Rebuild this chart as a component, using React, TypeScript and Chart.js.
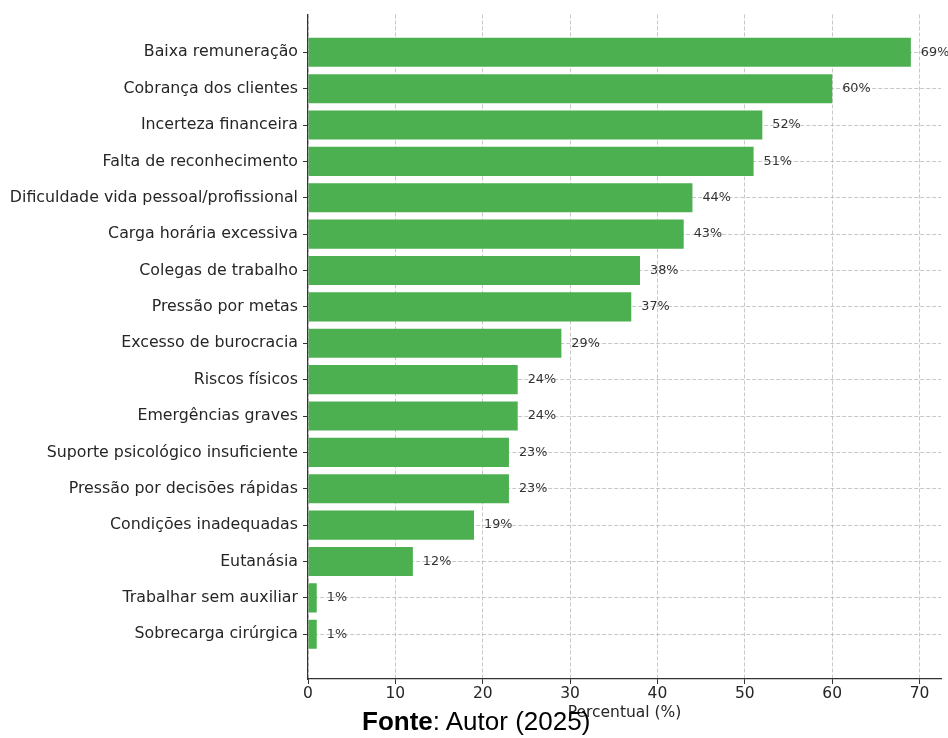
import React, { useEffect, useRef } from "react";
import { Chart, registerables } from "chart.js";

Chart.register(...registerables);

const categories: string[] = [
  "Baixa remuneração",
  "Cobrança dos clientes",
  "Incerteza financeira",
  "Falta de reconhecimento",
  "Dificuldade vida pessoal/profissional",
  "Carga horária excessiva",
  "Colegas de trabalho",
  "Pressão por metas",
  "Excesso de burocracia",
  "Riscos físicos",
  "Emergências graves",
  "Suporte psicológico insuficiente",
  "Pressão por decisões rápidas",
  "Condições inadequadas",
  "Eutanásia",
  "Trabalhar sem auxiliar",
  "Sobrecarga cirúrgica",
];

const percentValues: number[] = [69, 60, 52, 51, 44, 43, 38, 37, 29, 24, 24, 23, 23, 19, 12, 1, 1];

const xTickValues: number[] = [0, 10, 20, 30, 40, 50, 60, 70];

const xAxisTitle = "Percentual (%)";

const FONT = "'DejaVu Sans', sans-serif";

const valueLabelPlugin = {
  id: "valueLabels",
  afterDatasetsDraw(chart: any) {
    const ctx = chart.ctx;
    const meta = chart.getDatasetMeta(0);
    ctx.save();
    ctx.font = `12.8px ${FONT}`;
    ctx.fillStyle = "#333333";
    ctx.textAlign = "left";
    ctx.textBaseline = "middle";
    meta.data.forEach((bar: any, i: number) => {
      ctx.fillText(`${percentValues[i]}%`, bar.x + 10, bar.y);
    });
    ctx.restore();
  },
};

export default function App() {
  const canvasRef = useRef<HTMLCanvasElement | null>(null);

  useEffect(() => {
    document.body.style.margin = "0";
    const canvas = canvasRef.current;
    if (!canvas) return;
    const chart = new Chart(canvas, {
      type: "bar",
      data: {
        datasets: [
          {
            data: percentValues.map((v, i) => ({ x: v, y: i })),
            backgroundColor: "#4CAF50",
            borderWidth: 0,
            barPercentage: 0.8,
            categoryPercentage: 1,
          } as any,
        ],
      },
      options: {
        indexAxis: "y",
        responsive: false,
        animation: false,
        devicePixelRatio: 1,
        layout: { padding: { top: 12, right: 7, left: 0, bottom: 0 } },
        plugins: {
          legend: { display: false },
          tooltip: { enabled: false },
        },
        scales: {
          x: {
            type: "linear",
            position: "bottom",
            min: 0,
            max: 72.45,
            z: 1,
            afterFit: (axis: any) => {
              axis.height = 59;
            },
            afterBuildTicks: (axis: any) => {
              axis.ticks = xTickValues.map((v) => ({ value: v }));
            },
            ticks: {
              font: { family: FONT, size: 15.5 },
              color: "#262626",
              padding: 1,
              maxRotation: 0,
              autoSkip: false,
            },
            grid: {
              color: "rgba(176,176,176,0.7)",
              lineWidth: 1,
              drawTicks: true,
              tickLength: 5,
              tickColor: "#333333",
              tickBorderDash: [],
            },
            border: { display: true, color: "#333333", width: 1.2, dash: [4, 2] },
            title: {
              display: true,
              text: xAxisTitle,
              font: { family: FONT, size: 15.5 },
              color: "#262626",
              padding: { top: 0, bottom: 16 },
            },
          },
          y: {
            type: "linear",
            reverse: true,
            offset: false,
            min: -1.04,
            max: 17.23,
            z: 1,
            afterFit: (axis: any) => {
              axis.width = 308;
            },
            afterBuildTicks: (axis: any) => {
              axis.ticks = categories.map((_, i) => ({ value: i }));
            },
            ticks: {
              font: { family: FONT, size: 15.8 },
              color: "#262626",
              padding: 5,
              autoSkip: false,
              callback: (value: any) => categories[Math.round(Number(value))] ?? "",
            },
            grid: {
              offset: false,
              color: "rgba(176,176,176,0.7)",
              lineWidth: 1,
              drawTicks: true,
              tickLength: 5,
              tickColor: "#333333",
              tickBorderDash: [],
            },
            border: { display: true, color: "#333333", width: 1.2, dash: [4, 2] },
          },
        },
      } as any,
      plugins: [valueLabelPlugin],
    });
    return () => chart.destroy();
  }, []);

  return (
    <div style={{ position: "relative", width: 948, height: 738, overflow: "hidden" }}>
      <canvas ref={canvasRef} width={948} height={738} style={{ display: "block" }} />
      <div
        style={{
          position: "absolute",
          left: 362,
          top: 708,
          fontFamily: "'Liberation Sans', Arial, sans-serif",
          fontSize: 26,
          lineHeight: 1,
          color: "#000",
          whiteSpace: "nowrap",
        }}
      >
        <b>Fonte</b>: Autor (2025)
      </div>
    </div>
  );
}
